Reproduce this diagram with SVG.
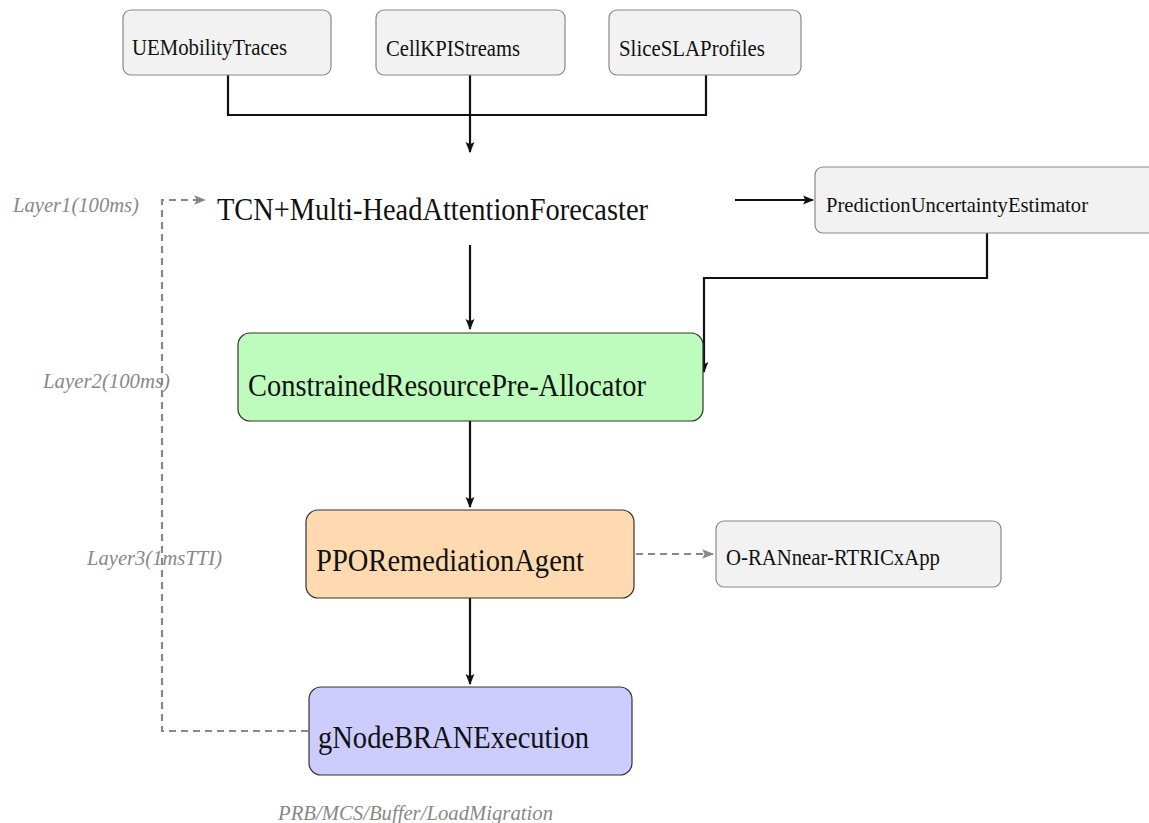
<svg xmlns="http://www.w3.org/2000/svg" width="1149" height="823" viewBox="0 0 1149 823">
<style>
.box{stroke:#888;stroke-width:1.2}
.grey{fill:#f2f2f2}
.t{font-family:"Liberation Serif",serif;fill:#111}
.s{font-size:23px}
.l{font-size:32px}
.lab{font-family:"Liberation Serif",serif;font-style:italic;fill:#888;font-size:21px}
.c{fill:none;stroke:#111;stroke-width:2.2}
.d{fill:none;stroke:#888;stroke-width:2.2;stroke-dasharray:7,5}
.dk{stroke:#333;stroke-width:1.2}
</style>
<defs>
<marker id="a" viewBox="0 0 10 10" refX="9" refY="5" markerWidth="11" markerHeight="11" markerUnits="userSpaceOnUse" orient="auto">
<path d="M0,1 L10,5 L0,9 L2,5 z" fill="#111"/>
</marker>
<marker id="g" viewBox="0 0 10 10" refX="9" refY="5" markerWidth="12" markerHeight="12" markerUnits="userSpaceOnUse" orient="auto">
<path d="M0,1 L10,5 L0,9 L2,5 z" fill="#888"/>
</marker>
</defs>
<rect width="1149" height="823" fill="#fff"/>
<g id="connectors">
<path class="c" d="M228,75 V115 H706 V75"/>
<path class="c" d="M470,75 V152" marker-end="url(#a)"/>
<path class="c" d="M470,245 V329" marker-end="url(#a)"/>
<path class="c" d="M735,200 H813" marker-end="url(#a)"/>
<path class="c" d="M987,233 V278 H704 V372" marker-end="url(#a)"/>
<path class="c" d="M470,421 V507" marker-end="url(#a)"/>
<path class="c" d="M470,598 V684" marker-end="url(#a)"/>
<path class="d" d="M636,554 H713" marker-end="url(#g)"/>
<path class="d" d="M308,731 H162 V200 H205" marker-end="url(#g)"/>
</g>
<g id="ue"><rect class="box grey" x="123" y="10" width="208" height="65" rx="8"/><text class="t s" x="132" y="55" textLength="155" lengthAdjust="spacingAndGlyphs">UEMobilityTraces</text></g>
<g id="cell"><rect class="box grey" x="376" y="10" width="189" height="65" rx="8"/><text class="t s" x="386" y="56" textLength="134" lengthAdjust="spacingAndGlyphs">CellKPIStreams</text></g>
<g id="slice"><rect class="box grey" x="609" y="10" width="192" height="65" rx="8"/><text class="t s" x="619" y="56" textLength="146" lengthAdjust="spacingAndGlyphs">SliceSLAProfiles</text></g>
<g id="tcn"><text class="t l" x="217" y="220" textLength="431" lengthAdjust="spacingAndGlyphs">TCN+Multi-HeadAttentionForecaster</text></g>
<g id="pue"><rect class="box grey" x="815" y="167" width="345" height="66" rx="8"/><text class="t" font-size="22" x="826" y="212" textLength="262" lengthAdjust="spacingAndGlyphs">PredictionUncertaintyEstimator</text></g>
<g id="cra"><rect class="dk" fill="#bdfcbd" x="238" y="333" width="465" height="88" rx="12"/><text class="t l" x="248" y="396" textLength="398" lengthAdjust="spacingAndGlyphs">ConstrainedResourcePre-Allocator</text></g>
<g id="ppo"><rect class="dk" fill="#ffdab0" x="306" y="510" width="328" height="88" rx="12"/><text class="t l" x="316" y="571" textLength="268" lengthAdjust="spacingAndGlyphs">PPORemediationAgent</text></g>
<g id="oran"><rect class="box grey" x="716" y="521" width="285" height="66" rx="8"/><text class="t s" x="726" y="565" textLength="214" lengthAdjust="spacingAndGlyphs">O-RANnear-RTRICxApp</text></g>
<g id="gnb"><rect class="dk" fill="#ccccff" x="309" y="687" width="323" height="88" rx="12"/><text class="t l" x="318" y="748" textLength="271" lengthAdjust="spacingAndGlyphs">gNodeBRANExecution</text></g>
<g id="labels">
<text class="lab" x="13" y="212" textLength="126" lengthAdjust="spacingAndGlyphs">Layer1(100ms)</text>
<text class="lab" x="43" y="388" textLength="127" lengthAdjust="spacingAndGlyphs">Layer2(100ms)</text>
<text class="lab" x="87" y="565" textLength="135" lengthAdjust="spacingAndGlyphs">Layer3(1msTTI)</text>
<text class="lab" font-size="23" x="278" y="820" textLength="275" lengthAdjust="spacingAndGlyphs">PRB/MCS/Buffer/LoadMigration</text>
</g>
</svg>
